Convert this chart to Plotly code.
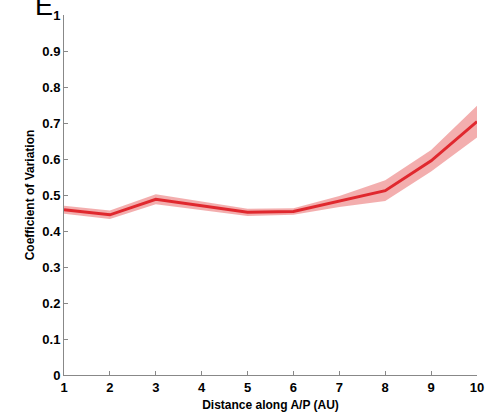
import plotly.graph_objects as go

# Coefficient of variation along the A/P axis, mean and spread
distance = [1, 2, 3, 4, 5, 6, 7, 8, 9, 10]
cv_mean = [0.459, 0.445, 0.488, 0.469, 0.452, 0.454, 0.482, 0.512, 0.595, 0.704]
cv_err = [0.011, 0.012, 0.014, 0.012, 0.010, 0.009, 0.015, 0.029, 0.030, 0.044]

x_ticks = [1, 2, 3, 4, 5, 6, 7, 8, 9, 10]
y_ticks = [0, 0.1, 0.2, 0.3, 0.4, 0.5, 0.6, 0.7, 0.8, 0.9, 1]
y_tick_text = ["0", "0.1", "0.2", "0.3", "0.4", "0.5", "0.6", "0.7", "0.8", "0.9", "1"]

upper = [m + e for m, e in zip(cv_mean, cv_err)]
lower = [m - e for m, e in zip(cv_mean, cv_err)]

fig = go.Figure()
fig.add_trace(go.Scatter(
    x=distance + distance[::-1], y=upper + lower[::-1],
    fill="toself", fillcolor="rgba(236,130,130,0.65)",
    line=dict(width=0), mode="lines", hoverinfo="skip", showlegend=False,
))
fig.add_trace(go.Scatter(
    x=distance, y=cv_mean, mode="lines",
    line=dict(color="#e0282e", width=3), showlegend=False,
))

axis_font = dict(family="Liberation Sans, Arial, sans-serif", size=13, color="black", weight="bold")
title_font = dict(family="Liberation Sans, Arial, sans-serif", size=12, color="black", weight="bold")

fig.update_xaxes(
    range=[1, 10], tickvals=x_ticks, ticks="inside", ticklen=4, tickcolor="#888",
    showline=True, linecolor="#888", linewidth=1, showgrid=False, zeroline=False,
    automargin=False, tickfont=axis_font,
    title=dict(text="Distance along A/P (AU)", font=title_font, standoff=7),
)
fig.update_yaxes(
    range=[0, 1], tickvals=y_ticks, ticktext=y_tick_text, ticks="inside", ticklen=4,
    tickcolor="#888", showline=True, linecolor="#888", linewidth=1, showgrid=False,
    zeroline=False, automargin=False, tickfont=axis_font,
    title=dict(text="Coefficient of Variation", font=title_font, standoff=5),
)

# Panel letter, clipped by the top edge of the page
fig.add_annotation(
    text="E", xref="paper", yref="paper", x=-0.048, y=1.0, xanchor="center", yanchor="bottom",
    showarrow=False, font=dict(family="Liberation Sans, Arial, sans-serif", size=27, color="black"),
    yshift=-8,
)

fig.update_layout(
    width=490, height=419, margin=dict(l=64, r=13, t=15, b=44),
    paper_bgcolor="white", plot_bgcolor="white",
)

fig.write_html("out.html")
